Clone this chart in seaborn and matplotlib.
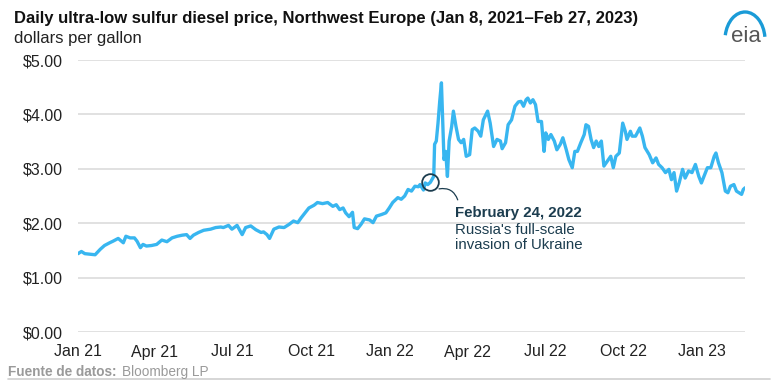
# Daily ULSD price, Northwest Europe - recreation of the EIA chart
import pandas as pd
import matplotlib
matplotlib.use("Agg")
import matplotlib.pyplot as plt
import matplotlib.patches as patches
import seaborn as sns

# Data
dates = [
    "2021-01-08", "2021-01-12", "2021-01-16", "2021-01-22", "2021-01-28",
    "2021-02-03", "2021-02-08", "2021-02-14", "2021-02-18", "2021-02-24",
    "2021-03-02", "2021-03-05", "2021-03-10", "2021-03-15", "2021-03-18",
    "2021-03-22", "2021-03-25", "2021-03-29", "2021-04-04", "2021-04-10",
    "2021-04-16", "2021-04-22", "2021-04-28", "2021-05-04", "2021-05-10",
    "2021-05-15", "2021-05-19", "2021-05-23", "2021-05-29", "2021-06-04",
    "2021-06-12", "2021-06-18", "2021-06-24", "2021-06-27", "2021-07-03",
    "2021-07-07", "2021-07-13", "2021-07-19", "2021-07-23", "2021-07-29",
    "2021-08-04", "2021-08-10", "2021-08-13", "2021-08-17", "2021-08-20",
    "2021-08-25", "2021-08-31", "2021-09-06", "2021-09-12", "2021-09-17",
    "2021-09-22", "2021-09-26", "2021-09-29", "2021-10-05", "2021-10-11",
    "2021-10-15", "2021-10-21", "2021-10-27", "2021-11-02", "2021-11-06",
    "2021-11-10", "2021-11-14", "2021-11-17", "2021-11-21", "2021-11-25",
    "2021-11-27", "2021-12-01", "2021-12-05", "2021-12-09", "2021-12-15",
    "2021-12-19", "2021-12-23", "2021-12-29", "2022-01-03", "2022-01-07",
    "2022-01-11", "2022-01-17", "2022-01-21", "2022-01-25", "2022-01-29",
    "2022-02-02", "2022-02-06", "2022-02-10", "2022-02-12", "2022-02-16",
    "2022-02-18", "2022-02-21", "2022-02-24", "2022-02-28", "2022-03-01",
    "2022-03-03", "2022-03-05", "2022-03-07", "2022-03-09", "2022-03-11",
    "2022-03-12", "2022-03-14", "2022-03-16", "2022-03-18", "2022-03-21",
    "2022-03-23", "2022-03-26", "2022-03-29", "2022-04-01", "2022-04-04",
    "2022-04-07", "2022-04-11", "2022-04-14", "2022-04-17", "2022-04-21",
    "2022-04-24", "2022-04-27", "2022-05-02", "2022-05-05", "2022-05-09",
    "2022-05-13", "2022-05-17", "2022-05-19", "2022-05-23", "2022-05-26",
    "2022-05-30", "2022-06-03", "2022-06-07", "2022-06-10", "2022-06-13",
    "2022-06-16", "2022-06-18", "2022-06-21", "2022-06-24", "2022-06-27",
    "2022-06-30", "2022-07-04", "2022-07-07", "2022-07-09", "2022-07-12",
    "2022-07-15", "2022-07-19", "2022-07-22", "2022-07-26", "2022-07-29",
    "2022-08-02", "2022-08-05", "2022-08-09", "2022-08-12", "2022-08-15",
    "2022-08-19", "2022-08-23", "2022-08-25", "2022-08-28", "2022-08-31",
    "2022-09-03", "2022-09-06", "2022-09-09", "2022-09-12", "2022-09-15",
    "2022-09-19", "2022-09-23", "2022-09-26", "2022-09-29", "2022-10-03",
    "2022-10-07", "2022-10-10", "2022-10-12", "2022-10-16", "2022-10-18",
    "2022-10-22", "2022-10-27", "2022-10-30", "2022-11-02", "2022-11-07",
    "2022-11-11", "2022-11-15", "2022-11-18", "2022-11-22", "2022-11-26",
    "2022-11-30", "2022-12-03", "2022-12-06", "2022-12-09", "2022-12-12",
    "2022-12-16", "2022-12-19", "2022-12-23", "2022-12-27", "2022-12-31",
    "2023-01-04", "2023-01-07", "2023-01-11", "2023-01-14", "2023-01-18",
    "2023-01-22", "2023-01-24", "2023-01-27", "2023-01-31", "2023-02-04",
    "2023-02-07", "2023-02-10", "2023-02-14", "2023-02-17", "2023-02-20",
    "2023-02-23", "2023-02-25", "2023-02-27",
]
prices = [
    1.44, 1.48, 1.44, 1.43, 1.42,
    1.52, 1.59, 1.64, 1.67, 1.72,
    1.64, 1.76, 1.73, 1.73, 1.67,
    1.55, 1.61, 1.58, 1.59, 1.61,
    1.69, 1.66, 1.73, 1.76, 1.78,
    1.79, 1.72, 1.78, 1.83, 1.87,
    1.89, 1.92, 1.93, 1.92, 1.96,
    1.89, 1.96, 1.79, 1.92, 1.95,
    1.88, 1.83, 1.84, 1.79, 1.72,
    1.89, 1.93, 1.92, 1.98, 2.04,
    2.01, 2.10, 2.16, 2.28, 2.33,
    2.38, 2.36, 2.38, 2.31, 2.34,
    2.25, 2.28, 2.19, 2.12, 2.20,
    1.92, 1.90, 1.98, 2.08, 2.06,
    2.01, 2.13, 2.16, 2.19, 2.28,
    2.38, 2.47, 2.44, 2.50, 2.62,
    2.59, 2.68, 2.67, 2.71, 2.61,
    2.74, 2.71, 2.75, 2.86, 3.45,
    3.51, 3.84, 4.24, 4.58, 3.60,
    3.17, 3.32, 2.86, 3.51, 3.78,
    4.06, 3.78, 3.54, 3.48, 3.54,
    3.23, 3.26, 3.72, 3.75, 3.69,
    3.60, 3.90, 4.06, 3.84, 3.41,
    3.54, 3.51, 3.37, 3.48, 3.81,
    3.90, 4.15, 4.23, 4.24, 4.15,
    4.27, 4.30, 4.21, 4.27, 4.18,
    3.87, 3.87, 3.32, 3.66, 3.54,
    3.63, 3.51, 3.35, 3.45, 3.57,
    3.35, 3.17, 3.02, 3.32, 3.32,
    3.48, 3.63, 3.81, 3.78, 3.54,
    3.39, 3.51, 3.41, 3.51, 3.05,
    3.14, 3.23, 3.02, 3.23, 3.29,
    3.84, 3.69, 3.54, 3.69, 3.60,
    3.60, 3.75, 3.60, 3.39, 3.26,
    3.11, 3.20, 3.08, 3.02, 2.93,
    2.99, 2.80, 2.93, 2.59, 2.74,
    2.99, 2.83, 2.96, 2.93, 3.08,
    2.86, 2.74, 2.90, 3.02, 3.02,
    3.23, 3.29, 3.11, 2.93, 2.59,
    2.56, 2.68, 2.71, 2.59, 2.56,
    2.53, 2.62, 2.65,
]

# Axis labels
tick_dates = ["2021-01-01", "2021-04-01", "2021-07-01", "2021-10-01",
              "2022-01-01", "2022-04-01", "2022-07-01", "2022-10-01",
              "2023-01-01"]
tick_labels = ["Jan 21", "Apr 21", "Jul 21", "Oct 21",
               "Jan 22", "Apr 22", "Jul 22", "Oct 22", "Jan 23"]
y_ticks = [0, 1, 2, 3, 4, 5]

# Annotation
event_date = "2022-02-24"
event_price = 2.75

df = pd.DataFrame({"Date": pd.to_datetime(dates), "Price": prices})

sns.set_theme(style="white")
plt.rcParams["font.family"] = ["Liberation Sans", "DejaVu Sans"]

line_color = "#38b6f0"
note_color = "#1c3d4f"

fig = plt.figure(figsize=(7.73, 3.85), dpi=100)
ax = fig.add_axes([78 / 773, 1 - 332 / 385, 667 / 773, 272 / 385])

sns.lineplot(data=df, x="Date", y="Price", ax=ax, color=line_color, linewidth=2.4)

# Grid and axes
ax.set_ylim(0, 5)
ax.set_xlim(df["Date"].min(), df["Date"].max())
ax.set_yticks(y_ticks)
ax.set_yticklabels([f"${v:.2f}" for v in y_ticks])
# labels sit a week right of the quarter start, like the original
ax.set_xticks(pd.to_datetime(tick_dates) + pd.Timedelta(days=7))
ax.set_xticklabels(tick_labels)
ax.grid(axis="y", color="#dcdcdc", linewidth=1.2)
ax.grid(axis="x", visible=False)
for s in ax.spines.values():
    s.set_visible(False)
ax.tick_params(axis="both", length=0, labelsize=11.5, colors="#222222")
ax.tick_params(axis="y", pad=11)
ax.tick_params(axis="x", pad=9)
ax.set_xlabel("")
ax.set_ylabel("")

# Event marker and note
ev = pd.to_datetime(event_date)
ax.plot([ev], [event_price], marker="o", markersize=12, markerfacecolor="none",
        markeredgecolor=note_color, markeredgewidth=1.3, zorder=5)
ax.annotate("", xy=(ev + pd.Timedelta(days=33), 2.38), xytext=(ev + pd.Timedelta(days=7), 2.62),
            arrowprops=dict(arrowstyle="-", color=note_color, linewidth=0.9,
                            connectionstyle="arc3,rad=-0.5"))
ax.text(ev + pd.Timedelta(days=29), 2.19, "February 24, 2022", fontsize=10.8,
        fontweight="bold", color=note_color, va="center")
ax.text(ev + pd.Timedelta(days=29), 1.73, "Russia's full-scale\ninvasion of Ukraine",
        fontsize=10.8, color=note_color, va="center", linespacing=1.1)

# Titles
fig.text(14 / 773, 1 - 18 / 385, "Daily ultra-low sulfur diesel price, Northwest Europe (Jan 8, 2021\u2013Feb 27, 2023)",
         fontsize=12, fontweight="bold", color="#111111", va="center")
fig.text(14 / 773, 1 - 38 / 385, "dollars per gallon", fontsize=12, color="#222222", va="center")

# Source line
fig.text(8 / 773, 1 - 372 / 385, "Fuente de datos:", fontsize=9.8, fontweight="bold",
         color="#9a9a9a", va="center")
fig.text(122 / 773, 1 - 372 / 385, "Bloomberg LP", fontsize=9.8, color="#9a9a9a", va="center")
fig.add_artist(plt.Line2D([8 / 773, 770 / 773], [1 - 379 / 385, 1 - 379 / 385],
                          color="#d0d0d0", linewidth=1.2))

# eia logo
fig.text(746 / 773, 1 - 37 / 385, "eia", fontsize=16, color="#555555", ha="center", va="center")
fig.add_artist(patches.Arc((745 / 773, 1 - 40 / 385), 40 / 773, 56 / 385, theta1=18, theta2=154,
                           color="#1a9bd7", linewidth=2.4, transform=fig.transFigure))

plt.savefig("out.png", dpi=100)
